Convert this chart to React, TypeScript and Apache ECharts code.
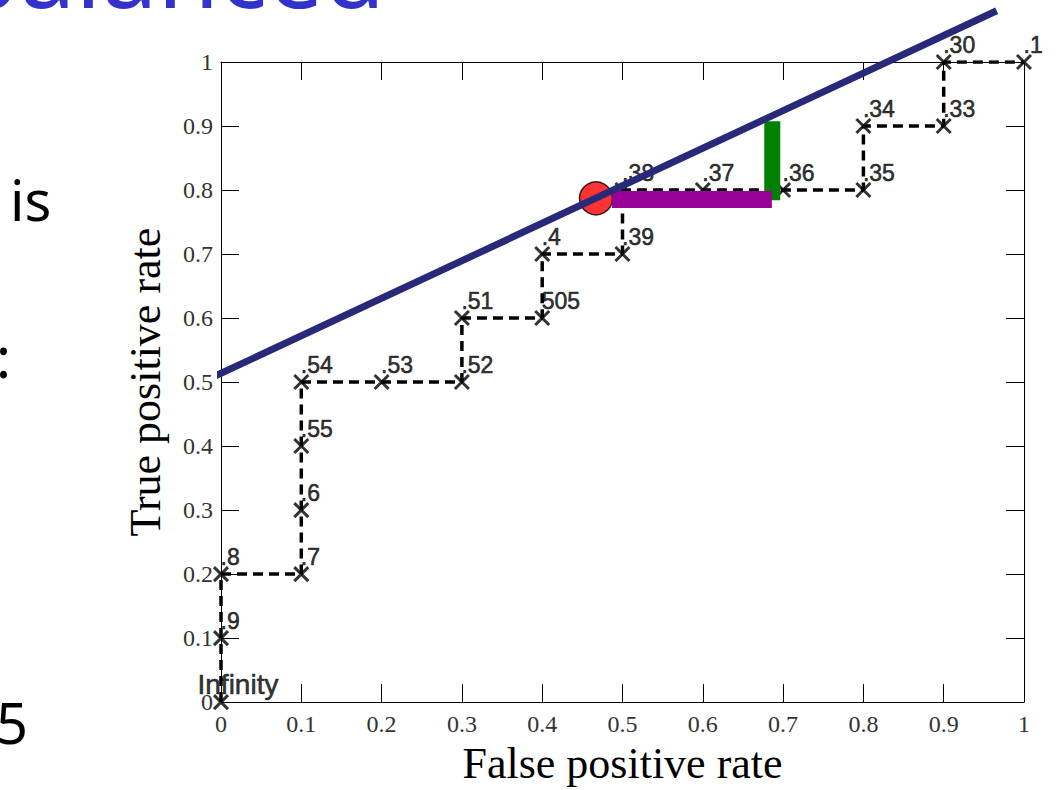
import React, { useEffect, useRef } from "react";
import * as echarts from "echarts";

// ROC curve points (false positive rate, true positive rate) and thresholds
const fprValues = [0, 0, 0, 0.1, 0.1, 0.1, 0.1, 0.2, 0.3, 0.3, 0.4, 0.4, 0.5, 0.5, 0.6, 0.7, 0.8, 0.8, 0.9, 0.9, 1];
const tprValues = [0, 0.1, 0.2, 0.2, 0.3, 0.4, 0.5, 0.5, 0.5, 0.6, 0.6, 0.7, 0.7, 0.8, 0.8, 0.8, 0.8, 0.9, 0.9, 1, 1];
const thresholdLabels = [
  "Infinity", ".9", ".8", ".7", ".6", ".55", ".54", ".53", ".52", ".51", "505",
  ".4", ".39", ".38", ".37", ".36", ".35", ".34", ".33", ".30", ".1",
];

// Overlay annotations (data coordinates)
const diagonalLine = [[-0.25, 0.367], [0.966, 1.08]];
const operatingPoint = [[0.467, 0.787]];
const fprGapBar = [[0.487, 0.785], [0.686, 0.785]];
const tprGapBar = [[0.6865, 0.9076], [0.6865, 0.784]];

// Slide text fragments around the chart
const slideTitle = "balanced";
const slideFragments = ["is", ":", "5"];

const crossSymbol = "path://M0,0L10,10M10,0L0,10";

export default function App() {
  const ref = useRef<HTMLDivElement>(null);

  useEffect(() => {
    if (!ref.current) return;
    const chart = echarts.init(ref.current, undefined, { renderer: "svg" });

    const curve = fprValues.map((x, i) => [x, tprValues[i]]);
    const markerData = curve.map((p, i) => {
      const isInf = i === 0;
      return {
        value: p,
        label: {
          show: true,
          formatter: thresholdLabels[i],
          position: isInf ? [-14, 6] : [9, 4],
          align: "left",
          verticalAlign: "bottom",
          fontSize: isInf ? 28 : 23,
          fontFamily: "Liberation Sans",
          color: "#000",
          textBorderColor: "#000",
          textBorderWidth: 0.6,
        },
      };
    });

    const tickLabel = {
      fontFamily: "Liberation Serif",
      fontSize: 24,
      color: "#333",
    };

    const tickStyle = { show: true, inside: true, length: 18, lineStyle: { color: "#000", width: 1 } };
    const lineStyleAxis = { show: true, onZero: false, lineStyle: { color: "#000", width: 1 } };

    chart.setOption({
      animation: false,
      backgroundColor: "#fff",
      grid: { left: 221, right: 32, top: 62, bottom: 79 },
      xAxis: [
        {
          type: "value",
          min: 0,
          max: 1,
          interval: 0.1,
          position: "bottom",
          splitLine: { show: false },
          axisLine: lineStyleAxis,
          axisTick: tickStyle,
          axisLabel: { ...tickLabel, margin: 10 },
          name: "False positive rate",
          nameLocation: "middle",
          nameGap: 30,
          nameTextStyle: { fontFamily: "Liberation Serif", fontSize: 44, color: "#000", verticalAlign: "top" },
        },
        {
          type: "value",
          min: 0,
          max: 1,
          interval: 0.1,
          position: "top",
          splitLine: { show: false },
          axisLine: lineStyleAxis,
          axisTick: tickStyle,
          axisLabel: { show: false },
        },
      ],
      yAxis: [
        {
          type: "value",
          min: 0,
          max: 1,
          interval: 0.1,
          position: "left",
          splitLine: { show: false },
          axisLine: lineStyleAxis,
          axisTick: tickStyle,
          axisLabel: { ...tickLabel, margin: 8 },
          name: "True positive rate",
          nameLocation: "middle",
          nameGap: 54,
          nameTextStyle: { fontFamily: "Liberation Serif", fontSize: 44, color: "#000" },
        },
        {
          type: "value",
          min: 0,
          max: 1,
          interval: 0.1,
          position: "right",
          splitLine: { show: false },
          axisLine: lineStyleAxis,
          axisTick: tickStyle,
          axisLabel: { show: false },
        },
      ],
      series: [
        {
          type: "line",
          data: curve,
          symbol: "none",
          lineStyle: { color: "#000", width: 3.5, type: [10, 6] },
          z: 2,
        },
        {
          type: "scatter",
          data: markerData,
          symbol: crossSymbol,
          symbolSize: 14,
          itemStyle: { color: "none", borderColor: "#000", borderWidth: 3 },
          z: 3,
        },
        {
          type: "scatter",
          data: operatingPoint,
          symbol: "circle",
          symbolSize: 33,
          itemStyle: { color: "#ff0000", borderColor: "#000", borderWidth: 1.5 },
          z: 4,
        },
        {
          type: "line",
          data: tprGapBar,
          symbol: "none",
          clip: false,
          lineStyle: { color: "#008000", width: 16, cap: "butt" },
          z: 5,
        },
        {
          type: "line",
          data: fprGapBar,
          symbol: "none",
          clip: false,
          lineStyle: { color: "#990099", width: 17, cap: "butt" },
          z: 6,
        },
        {
          type: "line",
          data: diagonalLine,
          symbol: "none",
          clip: false,
          lineStyle: { color: "#29297a", width: 7, cap: "butt" },
          z: 7,
        },
      ],
      graphic: [
        {
          type: "text",
          x: -42,
          y: -31,
          silent: true,
          style: {
            text: slideTitle,
            fontSize: 100,
            fontFamily: "Noto Sans",
            fill: "#3333cc",
            textAlign: "left",
            textVerticalAlign: "middle",
          },
        },
        {
          type: "text",
          x: 10,
          y: 199,
          silent: true,
          style: { text: slideFragments[0], fontSize: 56, fontFamily: "Noto Sans", fill: "#000", textAlign: "left", textVerticalAlign: "middle" },
        },
        {
          type: "text",
          x: -4,
          y: 356,
          silent: true,
          style: { text: slideFragments[1], fontSize: 56, fontFamily: "Noto Sans", fill: "#000", textAlign: "left", textVerticalAlign: "middle" },
        },
        {
          type: "text",
          x: -4,
          y: 722,
          silent: true,
          style: { text: slideFragments[2], fontSize: 56, fontFamily: "Noto Sans", fill: "#000", textAlign: "left", textVerticalAlign: "middle" },
        },
      ],
    });

    return () => chart.dispose();
  }, []);

  return (
    <div
      ref={ref}
      style={{ position: "fixed", left: 0, top: 0, width: 1056, height: 790 }}
    />
  );
}
